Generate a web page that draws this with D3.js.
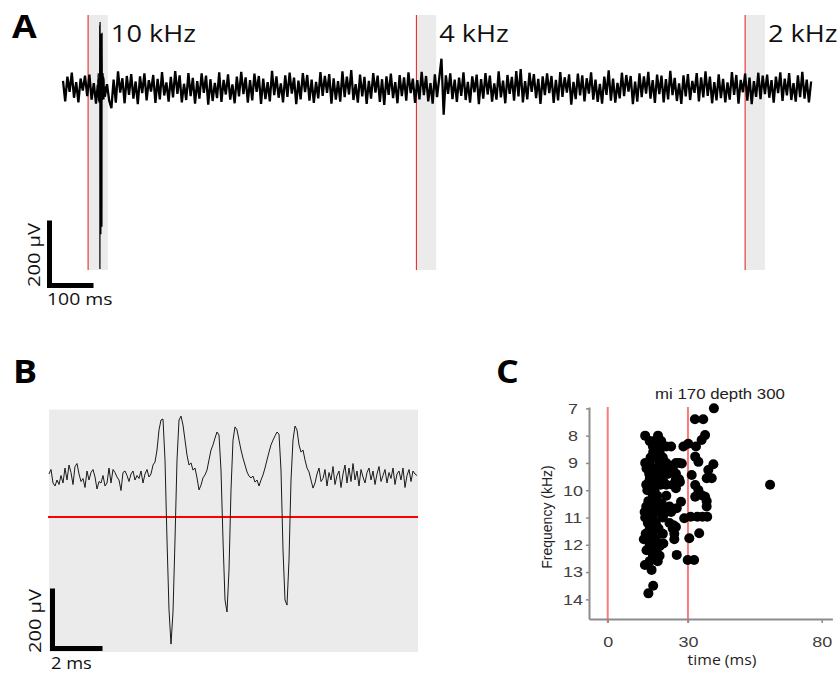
<!DOCTYPE html>
<html>
<head>
<meta charset="utf-8">
<script src="https://cdn.jsdelivr.net/npm/d3@7"></script>
<style>
  body { margin: 0; background: #fff; }
  svg { display: block; }
</style>
</head>
<body>
<svg id="fig" width="839" height="675"></svg>
<script>
// ---------- data ----------
// Panel A: continuous recording, one sample every 5 ms (µV)
const traceA = [
  22,-41,35,-12,47,-30,18,-44,29,-8,38,-25,41,-36,15,-48,33,-19,44,-27,
  12,-39,-62,26,-45,51,-14,30,-47,37,-21,43,-33,20,-50,36,-16,45,-38,24,
  -11,40,-46,28,-35,49,-23,17,-42,34,-29,52,-18,39,-44,13,-37,46,-25,31,
  -48,21,-33,45,-15,38,-51,27,-40,16,-31,48,-43,25,-20,42,-36,11,-47,35,
  -26,50,-19,33,-45,24,-38,44,-12,37,-49,29,-34,18,-41,53,-22,36,-30,14,
  -44,39,-27,47,-17,32,-50,23,-35,46,-13,40,-39,26,-46,19,-32,49,-24,37,
  -15,43,-48,30,-36,21,-42,51,-28,35,-20,55,-37,12,-45,41,-26,34,-49,22,
  -33,46,-14,38,-43,27,-52,36,-21,44,-31,18,-47,40,-25,33,-39,48,-16,29,
  -46,24,-35,50,-22,37,-41,15,-48,42,-28,31,90,-82,39,-18,45,-34,26,-43,
  32,-24,48,-37,19,-45,36,-13,41,-50,27,-33,46,-20,38,-42,14,-36,51,-29,
  23,-47,40,-18,34,-39,52,-26,58,-44,21,-35,47,-12,43,-31,28,-49,36,-22,
  45,-16,37,-46,25,-38,49,-27,33,-14,42,-51,19,-34,44,-23,39,-41,30,-17,
  48,-36,26,-43,13,-48,35,-21,54,-39,29,-45,16,-32,47,-25,40,-11,37,-50,
  20,-42,45,-28,36,-17,50,-33,24,-46,41,-19,38,-44,27,-35,53,-22,31,-40,
  14,-49,39,-26,43,-37,22,-15,46,-41,33,-29,51,-24,35,-47,18,-38,42,-31,
  28,-44,17,-36,49,-21,40,-48,25,-13,44,-39,32,-50,21,-27,47,-34,38,-19,
  41,-30,24,-45,35,-16,48,-40,29,-23,46,-37,15,-42,39,-28,50,-33,26,-44,20
];
// Panel B: burst of three spikes, one sample every 0.08 ms (µV)
const traceB = [
  10,25,-20,-30,-10,-25,5,-20,30,-10,40,15,-25,35,45,10,-15,-5,-35,20,
  -10,15,25,0,-40,-15,-20,5,-30,-20,30,-20,25,15,0,-10,-45,15,20,5,
  -15,10,20,-10,5,-5,20,-20,10,25,0,10,40,
  50,90,157,190,193,57,-210,-443,-557,-450,-210,57,190,203,173,123,73,40,47,23,
  30,-3,-43,-27,-3,7,23,57,90,107,130,150,140,23,-210,-410,-450,-310,-43,123,
  167,157,123,90,63,40,17,3,-3,3,-17,-10,-30,-10,7,30,57,83,107,123,
  137,150,143,23,-243,-410,-427,-277,-10,123,170,157,107,83,90,57,30,17,-10,-37,
  -20,10,30,-15,-5,25,-30,15,-10,35,-25,5,20,-35,10,40,-20,30,-15,45,
  -10,20,-30,25,0,-20,15,30,-10,20,-25,10,35,-15,5,25,-20,15,-5,30,
  -25,10,20,-10,30,-35,5,25,-15,20,10,5
];
const stimOnsets = [57, 803, 1550];       // ms
const stimLabels = ["10 kHz", "4 kHz", "2 kHz"];
const stimDuration = 45;                  // ms
const burstOffset = 79;                   // ms in A where the B window begins
const detectThreshold = -133;             // µV
// Panel C: spike latency (ms) vs tone frequency (kHz)
const raster = [
  [39.7,7.0],[32.6,7.4],[35.7,7.4],[36.4,7.98],[35.1,8.16],[30.1,8.3],[28.3,8.4],[33.0,8.4],
  [32.7,8.77],[33.9,8.96],[39.5,9.05],[37.6,9.26],[27.7,9.02],[31.4,9.44],[32.7,9.81],[33.9,9.99],
  [37.0,9.56],[38.9,9.56],[27.0,9.7],[35.1,10.18],[36.4,10.24],[27.4,10.42],[32.7,10.24],[37.0,10.4],
  [37.0,10.6],[28.6,11.03],[31.0,10.97],[33.5,10.97],[35.4,10.97],[37.2,10.97],[30.5,11.76],[34.2,11.58],
  [29.9,12.56],[32.3,12.56],[60.7,9.8],
  [21.9,8.4],[23.7,8.4],[21.9,9.0],[23.7,9.1],[25.5,9.0],[26.7,9.0],[21.2,9.2],[24.3,9.2],
  [22.5,9.4],[25.5,9.4],[25.5,9.6],[26.7,9.6],[21.9,9.8],[24.3,9.8],[25.5,9.8],[25.5,9.93],
  [21.9,10.2],[23.1,10.6],[20.8,10.66],[25.8,10.66],[21.2,10.85],[23.7,10.8],[23.1,11.2],[24.5,11.28],
  [24.3,11.4],[25.5,11.35],[24.9,11.6],[24.9,11.8],[20.8,11.95],[25.8,12.37],[20.2,10.48],
  [14.0,8.0],[18.8,8.0],[15.7,8.2],[17.5,8.2],[20.0,8.2],[16.9,8.4],[18.8,8.4],[17.0,8.6],[19.4,8.6],
  [16.0,8.8],[17.5,8.8],[20.6,8.8],[14.0,9.0],[15.7,9.0],[19.4,9.0],[14.5,9.2],[16.9,9.2],[18.0,9.2],
  [15.5,9.4],[16.9,9.4],[19.4,9.4],[15.7,9.6],[18.0,9.6],[20.6,9.6],[14.4,9.8],[16.9,9.8],[19.8,9.8],
  [14.8,10.0],[15.7,10.0],[17.5,10.0],[16.9,10.2],[18.5,10.2],[15.2,10.4],[17.5,10.4],
  [14.4,10.6],[16.3,10.6],[17.8,10.6],[20.0,10.6],[13.8,10.8],[15.7,10.8],[18.0,10.8],
  [14.0,11.0],[14.4,11.0],[16.9,11.0],[20.6,11.0],[15.0,11.2],[16.3,11.2],[18.0,11.2],
  [15.7,11.4],[17.5,11.4],[19.0,11.4],[14.2,11.6],[15.0,11.6],[16.9,11.6],[20.6,11.6],
  [13.5,11.8],[15.7,11.8],[18.0,11.8],[15.7,12.0],[17.2,12.0],[19.4,12.05],
  [14.5,12.2],[16.3,12.2],[18.0,12.2],[16.9,12.4],[19.4,12.4],[15.7,12.6],[18.7,12.6],
  [13.9,12.74],[16.4,12.92],[17.0,13.5],[15.2,13.78]
];
const freqTicks = [7, 8, 9, 10, 11, 12, 13, 14];
const timeTicks = [0, 30, 80];
const latencyMarks = [0, 30];

// ---------- helpers ----------
const svg = d3.select("#fig");
const SANS = "'Open Sans', sans-serif";
const ARIAL = "'Liberation Sans', Arial, sans-serif";

// widen a text run horizontally by factor k
function widen(sel, k) {
  sel.each(function () {
    const w = this.getComputedTextLength();
    this.setAttribute("textLength", (w * k).toFixed(1));
    this.setAttribute("lengthAdjust", "spacingAndGlyphs");
  });
}
function fitLength(sel, len) {
  sel.attr("textLength", len).attr("lengthAdjust", "spacingAndGlyphs");
}
function panelLetter(txt, x, y) {
  svg.append("text").attr("x", x).attr("y", y).text(txt)
    .attr("font-family", SANS).attr("font-weight", 700).attr("font-size", 32)
    .attr("fill", "#000").call(widen, 1.12);
}

// ---------- Panel A ----------
const aStep = 5, bStep = 0.08;
const bDur = (traceB.length - 1) * bStep;
const ax = d3.scaleLinear().domain([0, 1702]).range([63, 812]);
const ay = d3.scaleLinear().domain([0, 200]).range([88, 23]);

const gA = svg.append("g");
stimOnsets.forEach((t0, i) => {
  gA.append("rect")
    .attr("x", ax(t0)).attr("y", 15)
    .attr("width", ax(t0 + stimDuration) - ax(t0)).attr("height", 255)
    .attr("fill", "#ebebeb");
  gA.append("line")
    .attr("x1", ax(t0)).attr("x2", ax(t0)).attr("y1", 15).attr("y2", 270)
    .attr("stroke", "#e31a1c").attr("stroke-width", 1);
  gA.append("text")
    .attr("x", ax(t0 + stimDuration) + 3).attr("y", 42)
    .attr("font-family", SANS).attr("font-size", 23).attr("fill", "#111")
    .text(stimLabels[i]).call(widen, 1.18);
});

// the recording, with the finely sampled burst window spliced in
const coarse = traceA.map((v, i) => [i * aStep, v]);
const before = coarse.filter(p => p[0] < burstOffset);
const after = coarse.filter(p => p[0] > burstOffset + bDur);
const burst = traceB.map((v, j) => [burstOffset + j * bStep, v]);
const lineA = d3.line().x(d => ax(d[0])).y(d => ay(d[1]));

[before.concat(burst.slice(0, 1)), burst.slice(-1).concat(after)].forEach(seg => {
  gA.append("path").attr("d", lineA(seg))
    .attr("fill", "none").attr("stroke", "#000").attr("stroke-width", 2.3)
    .attr("stroke-linejoin", "bevel");
});
gA.append("path").attr("d", lineA(burst))
  .attr("fill", "none").attr("stroke", "#000").attr("stroke-width", 1.2);

// scale bar A: 200 µV / 100 ms
{
  const cx0 = 49.5, cy0 = 285.5;
  const h = ay(0) - ay(200), w = ax(100) - ax(0);
  gA.append("path")
    .attr("d", `M${cx0},${cy0 - h}V${cy0}H${cx0 + w}`)
    .attr("fill", "none").attr("stroke", "#000").attr("stroke-width", 5)
    .attr("stroke-linejoin", "miter");
  gA.append("text")
    .attr("transform", `translate(40,255) rotate(-90)`)
    .attr("text-anchor", "middle")
    .attr("font-family", SANS).attr("font-size", 17).attr("fill", "#111")
    .text("200 µV").call(fitLength, 64);
  gA.append("text")
    .attr("x", 47).attr("y", 305)
    .attr("font-family", SANS).attr("font-size", 17).attr("fill", "#111")
    .text("100 ms").call(widen, 1.14);
}
panelLetter("A", 12, 38);

// ---------- Panel B ----------
const bx = d3.scaleLinear().domain([0, bDur]).range([49, 417]);
const by = d3.scaleLinear().domain([0, 200]).range([477, 417]);
const gB = svg.append("g");
gB.append("rect").attr("x", 49).attr("y", 409.5).attr("width", 369).attr("height", 242.5)
  .attr("fill", "#ebebeb");
gB.append("line")
  .attr("x1", 48).attr("x2", 418)
  .attr("y1", by(detectThreshold)).attr("y2", by(detectThreshold))
  .attr("stroke", "#ff0000").attr("stroke-width", 2);
gB.append("path")
  .attr("d", d3.line().x((d, i) => bx(i * bStep)).y(d => by(d))(traceB))
  .attr("fill", "none").attr("stroke", "#1a1a1a").attr("stroke-width", 1);
{
  const cx0 = 52.5, cy0 = 648.5;
  const h = by(0) - by(200), w = bx(2) - bx(0);
  gB.append("path")
    .attr("d", `M${cx0},${cy0 - h}V${cy0}H${cx0 + w}`)
    .attr("fill", "none").attr("stroke", "#000").attr("stroke-width", 5)
    .attr("stroke-linejoin", "miter");
  gB.append("text")
    .attr("transform", `translate(41,621) rotate(-90)`)
    .attr("text-anchor", "middle")
    .attr("font-family", SANS).attr("font-size", 17).attr("fill", "#111")
    .text("200 µV").call(fitLength, 64);
  gB.append("text")
    .attr("x", 51).attr("y", 669)
    .attr("font-family", SANS).attr("font-size", 16).attr("fill", "#111")
    .text("2 ms").call(widen, 1.14);
}
panelLetter("B", 13, 383);

// ---------- Panel C ----------
const cx = d3.scaleLinear().domain([-7, 84]).range([589, 832.4]);
const cy = d3.scaleLinear().domain([6.95, 14.72]).range([407, 619]);
const gC = svg.append("g");

latencyMarks.forEach(t => {
  gC.append("line")
    .attr("x1", cx(t)).attr("x2", cx(t)).attr("y1", 407).attr("y2", 623)
    .attr("stroke", "#ff7b7b").attr("stroke-width", 2);
});

gC.append("g").selectAll("circle").data(raster).join("circle")
  .attr("cx", d => cx(d[0])).attr("cy", d => cy(d[1])).attr("r", 5)
  .attr("fill", "#000");

const xAxis = gC.append("g").attr("transform", "translate(0,619)")
  .call(d3.axisBottom(cx).tickValues(timeTicks).tickSizeInner(4).tickSizeOuter(0)
    .tickPadding(13).tickFormat(d3.format("d")));
const yAxis = gC.append("g").attr("transform", "translate(589,0)")
  .call(d3.axisLeft(cy).tickValues(freqTicks).tickSizeInner(3).tickSizeOuter(0)
    .tickFormat(d3.format("d")));
[xAxis, yAxis].forEach(g => {
  g.select(".domain").attr("stroke", "#8c8c8c").attr("stroke-width", 2);
  g.selectAll(".tick line").attr("stroke", "#8c8c8c").attr("stroke-width", 1.5);
  g.selectAll(".tick text").attr("font-family", ARIAL).attr("font-size", 15)
    .attr("fill", "#404040");
});
yAxis.selectAll(".tick text").attr("text-anchor", "middle").attr("x", -16);
xAxis.selectAll(".tick text").call(widen, 1.2);
yAxis.selectAll(".tick text").call(widen, 1.2);

gC.append("text").attr("x", 720).attr("y", 399).attr("text-anchor", "middle")
  .attr("font-family", ARIAL).attr("font-size", 14).attr("fill", "#222")
  .text("mi 170 depth 300").call(widen, 1.2);
gC.append("text").attr("transform", "translate(552,517) rotate(-90)")
  .attr("text-anchor", "middle")
  .attr("font-family", ARIAL).attr("font-size", 14).attr("fill", "#222")
  .text("Frequency (kHz)");
gC.append("text").attr("x", 722).attr("y", 665).attr("text-anchor", "middle")
  .attr("font-family", SANS).attr("font-size", 14).attr("fill", "#222")
  .text("time (ms)").call(widen, 1.13);
panelLetter("C", 496, 383);
</script>
</body>
</html>
